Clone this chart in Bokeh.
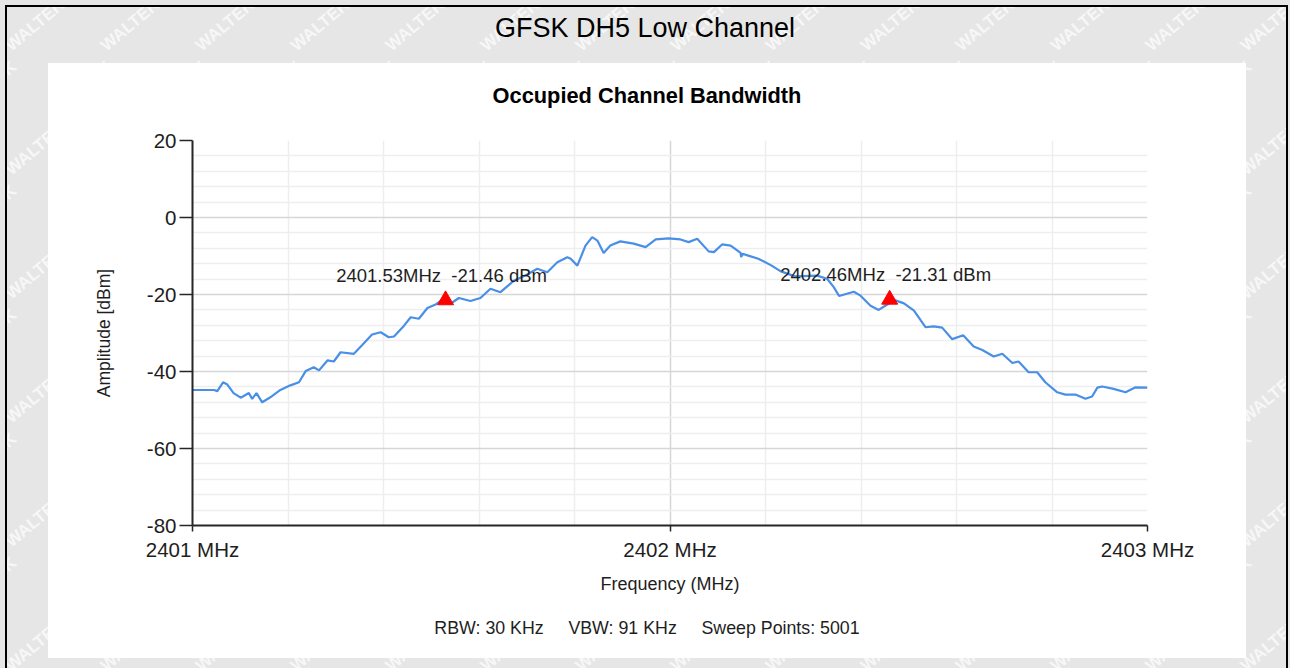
from bokeh.plotting import figure
from bokeh.layouts import column, row
from bokeh.models import Range1d, FixedTicker, ColumnDataSource, Div
from bokeh.core.properties import value
from bokeh.embed import file_html
from bokeh.resources import INLINE

# ---------------- data ----------------
freq_mhz = [
    2401.000, 2401.017, 2401.045, 2401.052, 2401.064, 2401.073, 2401.086, 2401.101,
    2401.118, 2401.125, 2401.134, 2401.146, 2401.163, 2401.184, 2401.205, 2401.223,
    2401.237, 2401.254, 2401.265, 2401.283, 2401.296, 2401.310, 2401.338, 2401.355,
    2401.376, 2401.394, 2401.411, 2401.422, 2401.443, 2401.457, 2401.474, 2401.492,
    2401.509, 2401.521, 2401.540, 2401.558, 2401.582, 2401.603, 2401.624, 2401.645,
    2401.673, 2401.701, 2401.722, 2401.743, 2401.764, 2401.785, 2401.792, 2401.806,
    2401.823, 2401.837, 2401.848, 2401.861, 2401.875, 2401.896, 2401.924, 2401.949,
    2401.970, 2401.997, 2402.022, 2402.039, 2402.057, 2402.081, 2402.092, 2402.109,
    2402.127, 2402.148, 2402.149, 2402.152, 2402.164, 2402.185, 2402.213, 2402.232,
    2402.262, 2402.308, 2402.329, 2402.343, 2402.354, 2402.385, 2402.399, 2402.420,
    2402.437, 2402.455, 2402.469, 2402.490, 2402.511, 2402.535, 2402.552, 2402.570,
    2402.591, 2402.614, 2402.636, 2402.654, 2402.678, 2402.696, 2402.717, 2402.730,
    2402.751, 2402.769, 2402.786, 2402.811, 2402.828, 2402.849, 2402.870, 2402.884,
    2402.895, 2402.905, 2402.929, 2402.954, 2402.975, 2403.000,
]
amp_dbm = [
    -44.8, -44.8, -44.8, -45.1, -42.8, -43.4, -45.6, -46.8,
    -45.6, -47.1, -45.6, -48.0, -46.7, -44.8, -43.6, -42.8,
    -39.9, -38.9, -39.7, -37.1, -37.4, -35.0, -35.4, -33.2,
    -30.4, -29.8, -31.1, -30.9, -28.1, -25.9, -26.3, -23.5,
    -22.6, -21.5, -22.4, -20.9, -21.7, -20.9, -18.5, -19.4,
    -16.4, -14.8, -13.3, -14.2, -11.6, -10.3, -10.7, -12.5,
    -7.3, -5.1, -6.0, -9.2, -7.3, -6.2, -6.8, -7.7,
    -5.7, -5.4, -5.7, -6.4, -5.5, -8.8, -9.0, -7.0,
    -7.3, -9.2, -10.3, -9.4, -9.9, -10.7, -12.5, -14.0,
    -15.3, -15.1, -15.9, -18.1, -20.4, -19.3, -20.3, -22.9,
    -24.0, -22.6, -21.4, -22.3, -24.2, -28.5, -28.3, -28.6,
    -31.6, -30.6, -33.5, -34.4, -36.1, -35.4, -37.8, -37.4,
    -40.2, -40.2, -42.8, -45.4, -46.0, -46.0, -47.1, -46.5,
    -44.2, -43.9, -44.5, -45.4, -44.1, -44.2,
]
marker_freq = [2401.53, 2402.46]
marker_amp = [-21.46, -21.31]
marker_text = ["2401.53MHz\u00a0 -21.46 dBm", "2402.46MHz\u00a0 -21.31 dBm"]

x_ticks = [2401, 2402, 2403]
x_tick_labels = ["2401 MHz", "2402 MHz", "2403 MHz"]
y_ticks = [-80, -60, -40, -20, 0, 20]
y_tick_labels = ["-80", "-60", "-40", "-20", "0", "20"]

chart_title = "GFSK DH5 Low Channel"
plot_title = "Occupied Channel Bandwidth"
x_label = "Frequency (MHz)"
y_label = "Amplitude [dBm]"
footer_items = ["RBW: 30 KHz", "VBW: 91 KHz", "Sweep Points: 5001"]
watermark_word = "WALTEK"

# ---------------- styling / layout ----------------
FONT = "Liberation Sans"
PAGE_W, PAGE_H = 1290, 668
PANEL_X, PANEL_Y, PANEL_W, PANEL_H = 48, 63, 1198, 595
TITLE_H, FOOT_H = 57, 53
FIG_H = PANEL_H - TITLE_H - FOOT_H
FL, FR, FT, FB = 192, 1147, 140, 525          # frame edges on the page
X0, X1, Y0, Y1 = 2401, 2403, -80, 20
TRACE = "#4a8fe6"
TEXT = "#1e1e1e"
GRAY = "#e6e6e6"

fig_top = PANEL_Y + TITLE_H
p = figure(
    width=PANEL_W, height=FIG_H, output_backend="svg", toolbar_location=None,
    x_range=Range1d(X0, X1), y_range=Range1d(Y0, Y1),
    min_border_left=FL - PANEL_X, min_border_right=PANEL_X + PANEL_W - FR,
    min_border_top=FT - fig_top, min_border_bottom=fig_top + FIG_H - FB,
    margin=0,
)
p.border_fill_color = "white"
p.background_fill_color = "white"
p.outline_line_color = None

# axes
xminor = [X0 + 0.2 * k for k in range(1, 10) if k != 5]
yminor = [v for v in range(Y0, Y1 + 1, 4) if v % 20 != 0]
p.xaxis.ticker = FixedTicker(ticks=x_ticks, minor_ticks=xminor)
p.yaxis.ticker = FixedTicker(ticks=y_ticks, minor_ticks=yminor)
p.xaxis.major_label_overrides = {t: l for t, l in zip(x_ticks, x_tick_labels)}
p.yaxis.major_label_overrides = {t: l for t, l in zip(y_ticks, y_tick_labels)}

for ax in (p.xaxis[0], p.yaxis[0]):
    ax.axis_line_color = "#262626"
    ax.axis_line_width = 2
    ax.major_tick_line_color = "#262626"
    ax.major_tick_line_width = 1.5
    ax.minor_tick_line_color = None
    ax.major_tick_in = 0
    ax.major_label_text_font = FONT
    ax.major_label_text_font_size = "20.5px"
    ax.major_label_text_color = TEXT
    ax.axis_label_text_font = FONT
    ax.axis_label_text_font_style = "normal"
    ax.axis_label_text_color = TEXT

p.xaxis.major_tick_out = 6
p.xaxis.major_label_standoff = 6
p.xaxis.axis_label = x_label
p.xaxis.axis_label_text_font_size = "18px"
p.xaxis.axis_label_standoff = 10

p.yaxis.major_tick_out = 13
p.yaxis.major_label_standoff = 3
p.yaxis.axis_label = y_label
p.yaxis.axis_label_text_font_size = "17.5px"
p.yaxis.axis_label_standoff = 30

p.xgrid.grid_line_color = "#d6d6d6"
p.ygrid.grid_line_color = "#d6d6d6"
p.xgrid.minor_grid_line_color = "#eeeeee"
p.ygrid.minor_grid_line_color = "#eeeeee"
p.xgrid.grid_line_width = 1.5
p.ygrid.grid_line_width = 1.5
p.xgrid.minor_grid_line_width = 1.5
p.ygrid.minor_grid_line_width = 1.5

# trace
p.line(freq_mhz, amp_dbm, line_color=TRACE, line_width=2.2)

# markers and their readouts
msrc = ColumnDataSource(dict(x=marker_freq, y=marker_amp, t=marker_text))
p.scatter("x", "y", source=msrc, marker="triangle", size=16,
          fill_color="#ff0000", line_color="#ff0000")
p.text("x", "y", text="t", source=msrc, x_offset=-4, y_offset=-25,
       text_align="center", text_baseline="middle",
       text_font=value(FONT), text_font_size="18.5px", text_color=TEXT)


# ---------------- page composition ----------------
def watermark_html(ox, oy, w, h):
    """Faint rotated watermark words for a gray strip whose top-left is (ox, oy) on the page."""
    spans = []
    for j in range(-1, 13):
        for i in range(-1, 16):
            cx = 35 + 95 * i + (j % 2) * 47
            cy = 25 + 62 * j
            if -60 < cx - ox < w + 60 and -60 < cy - oy < h + 60:
                spans.append(
                    f'<span style="position:absolute;left:{cx - ox}px;top:{cy - oy}px;'
                    f'transform:translate(-50%,-50%) rotate(-40deg);'
                    f"font:bold 17px '{FONT}';color:rgba(255,255,255,0.7);"
                    f'white-space:nowrap;line-height:1">{watermark_word}</span>'
                )
    return "".join(spans)


def strip_css(clip):
    return {"overflow": "hidden", "position": "relative", "padding": "0", "margin": "0",
            "clip-path": f"inset({clip})"}


text_css = {"font-family": FONT, "color": "black", "text-align": "center",
            "white-space": "pre", "padding": "0", "margin": "0"}

rw = PAGE_W - PANEL_X - PANEL_W
bh = PAGE_H - PANEL_Y - PANEL_H

header = Div(
    text=watermark_html(0, 0, PAGE_W, PANEL_Y)
    + f'<span style="position:relative">{chart_title}</span>',
    width=PAGE_W, height=PANEL_Y, margin=0,
    styles=dict(text_css, **strip_css("7px 4px 0 7px"),
                **{"font-size": "27px", "line-height": "56px"}))
left_strip = Div(text=watermark_html(0, PANEL_Y, PANEL_X, PANEL_H),
                 width=PANEL_X, height=PANEL_H, margin=0, styles=strip_css("0 0 0 7px"))
right_strip = Div(text=watermark_html(PANEL_X + PANEL_W, PANEL_Y, rw, PANEL_H),
                  width=rw, height=PANEL_H, margin=0, styles=strip_css("0 4px 0 0"))
bottom_strip = Div(text=watermark_html(0, PANEL_Y + PANEL_H, PAGE_W, bh),
                   width=PAGE_W, height=bh, margin=0, styles=strip_css("0 4px 0 7px"))

title_div = Div(text=plot_title, width=PANEL_W, height=TITLE_H, margin=0,
                styles=dict(text_css, **{"font-size": "21.8px", "font-weight": "bold",
                                         "line-height": "66px"}))
footer_div = Div(text="     ".join(footer_items), width=PANEL_W, height=FOOT_H, margin=0,
                 styles=dict(text_css, **{"font-size": "17.8px", "line-height": "46px",
                                          "color": TEXT}))

panel = column(title_div, p, footer_div, width=PANEL_W, height=PANEL_H, margin=0,
               styles={"background-color": "white"})
body = row(left_strip, panel, right_strip, width=PAGE_W, height=PANEL_H, margin=0)

bg = ("linear-gradient(#000,#000) 5px 5px / 2px 100% no-repeat, "
      "linear-gradient(#000,#000) 5px 5px / 1283px 2px no-repeat, "
      "linear-gradient(#000,#000) 1286px 5px / 2px 100% no-repeat, " + GRAY)
page = column(header, body, bottom_strip, width=PAGE_W, height=PAGE_H, margin=0,
              styles={"background": bg})

open("out.html", "w").write(file_html(page, INLINE))
